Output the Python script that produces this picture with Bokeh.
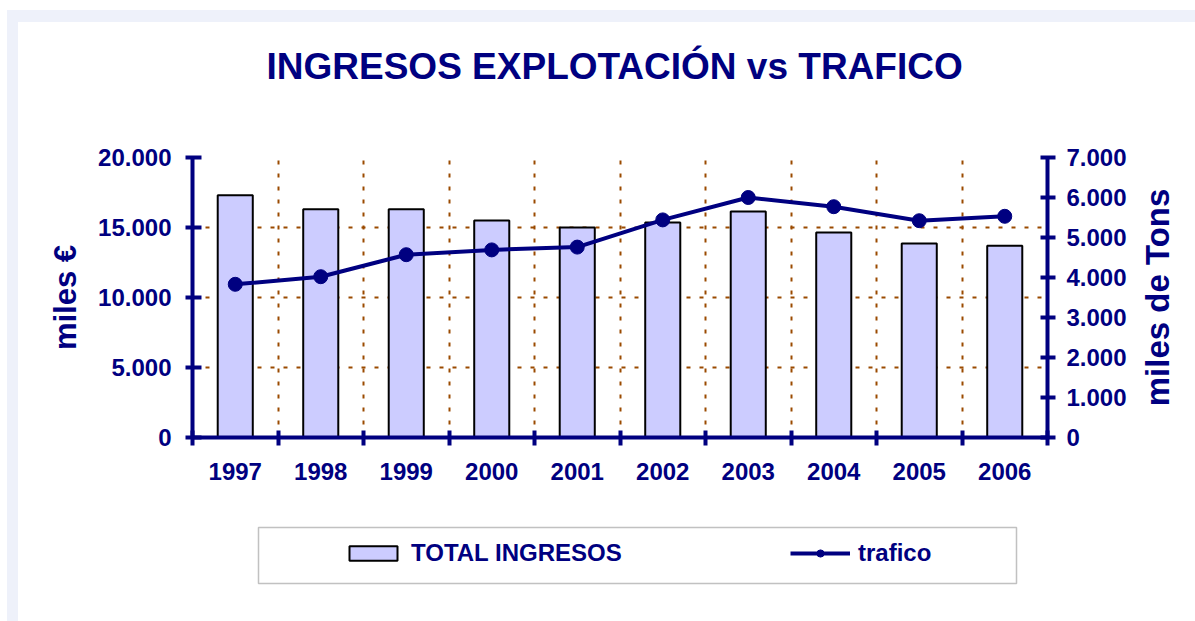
from bokeh.plotting import figure
from bokeh.layouts import column, row
from bokeh.models import (Range1d, LinearAxis, FixedTicker, Legend, LegendItem,
                          ColumnDataSource, BoxAnnotation, Title)
from bokeh.embed import file_html
from bokeh.resources import INLINE

years = ["1997", "1998", "1999", "2000", "2001", "2002", "2003", "2004", "2005", "2006"]
total_ingresos = [17300, 16300, 16300, 15500, 15000, 15350, 16150, 14650, 13850, 13700]
trafico = [3830, 4020, 4570, 4690, 4760, 5440, 6000, 5770, 5420, 5530]
left_ticks = [0, 5000, 10000, 15000, 20000]
right_ticks = [0, 1000, 2000, 3000, 4000, 5000, 6000, 7000]

NAVY = "#000080"
GRID = "#9A4A00"
FONT = "Liberation Sans"
BAND = "#EEF1FA"

def fmt(v):
    return f"{v:,}".replace(",", ".")

xs = list(range(1, len(years) + 1))
src = ColumnDataSource(dict(x=xs, ingresos=total_ingresos, trafico=trafico))

W = 1177
W_MAIN = 1122
H_MAIN = 488
H_LEG = 111
BL, BR = 174, 93
BT, BB = 135, 73

p = figure(width=W_MAIN, height=H_MAIN, output_backend="svg", toolbar_location=None,
           x_range=Range1d(0.5, len(years) + 0.5), y_range=Range1d(0, 20000),
           min_border_left=BL, min_border_right=BR, min_border_top=BT,
           min_border_bottom=BB)
p.extra_y_ranges = {"right": Range1d(0, 7000)}
p.outline_line_color = None
p.background_fill_color = "white"
p.border_fill_color = "white"

# spacer between title and frame (first "above" item sits next to the frame)
p.add_layout(Title(text=" ", text_font_size="10px", standoff=53), "above")

# title
p.title.text = "INGRESOS EXPLOTACIÓN vs TRAFICO"
p.title.align = "left"
p.title.offset = 74
p.title.text_font = FONT
p.title.text_font_size = "37px"
p.title.text_font_style = "bold"
p.title.text_color = NAVY
p.title.standoff = 10

def style_axis(ax):
    ax.axis_line_color = NAVY
    ax.axis_line_width = 4
    ax.major_tick_line_color = NAVY
    ax.major_tick_line_width = 4
    ax.minor_tick_line_color = NAVY
    ax.minor_tick_line_width = 4
    ax.major_label_text_font = FONT
    ax.major_label_text_font_size = "24px"
    ax.major_label_text_font_style = "bold"
    ax.major_label_text_color = NAVY
    ax.axis_label_text_font = FONT
    ax.axis_label_text_font_style = "bold"
    ax.axis_label_text_color = NAVY

# left axis
yl = p.yaxis[0]
style_axis(yl)
yl.ticker = FixedTicker(ticks=left_ticks)
yl.major_label_overrides = {t: fmt(t) for t in left_ticks}
yl.major_tick_in = 9
yl.major_tick_out = 7
yl.minor_tick_in = 0
yl.minor_tick_out = 0
yl.major_label_standoff = 14
yl.axis_label = "miles €"
yl.axis_label_text_font_size = "31px"
yl.axis_label_standoff = 12

# right axis (ticks and numbers)
yr = LinearAxis(y_range_name="right", ticker=FixedTicker(ticks=right_ticks))
style_axis(yr)
yr.major_label_overrides = {t: fmt(t) for t in right_ticks}
yr.major_tick_in = 7
yr.major_tick_out = 8
yr.minor_tick_in = 0
yr.minor_tick_out = 0
yr.major_label_standoff = 11
p.add_layout(yr, "right")

# bottom axis
xa = p.xaxis[0]
style_axis(xa)
xa.ticker = FixedTicker(ticks=xs, minor_ticks=[x - 0.5 for x in xs] + [xs[-1] + 0.5])
xa.major_label_overrides = {x: y for x, y in zip(xs, years)}
xa.major_tick_in = 0
xa.major_tick_out = 0
xa.minor_tick_in = 7
xa.minor_tick_out = 8
xa.major_label_standoff = 17

# grids
p.ygrid.ticker = FixedTicker(ticks=left_ticks[1:])
p.ygrid.grid_line_color = GRID
p.ygrid.grid_line_width = 2
p.ygrid.grid_line_dash = "4 9"
p.xgrid.ticker = FixedTicker(ticks=[x + 0.5 for x in xs[:-1]])
p.xgrid.grid_line_color = GRID
p.xgrid.grid_line_width = 2
p.xgrid.grid_line_dash = "4 9"

# data
bar_style = dict(fill_color="#CCCCFF", line_color="black", line_width=2)
line_style = dict(line_color=NAVY, line_width=4)
pt_style = dict(marker="circle", size=14, fill_color=NAVY, line_color=NAVY)

p.vbar(x="x", top="ingresos", width=0.41, source=src, **bar_style)
p.line(x="x", y="trafico", source=src, y_range_name="right", **line_style)
p.scatter(x="x", y="trafico", source=src, y_range_name="right", **pt_style)

# narrow strip carrying the right-hand axis title (reads bottom to top)
r = figure(width=W - W_MAIN, height=H_MAIN, output_backend="svg", toolbar_location=None,
           x_axis_type=None, y_axis_type=None,
           x_range=Range1d(0, 1), y_range=Range1d(0, 7000),
           min_border_left=W - W_MAIN - 2, min_border_right=0, min_border_top=BT,
           min_border_bottom=BB)
r.xgrid.visible = False
r.ygrid.visible = False
r.outline_line_color = None
r.border_fill_color = "white"
ra = LinearAxis(ticker=FixedTicker(ticks=[]))
ra.axis_line_color = None
ra.major_tick_line_color = None
ra.minor_tick_line_color = None
ra.major_label_text_font_size = "0px"
ra.axis_label = "miles de Tons"
ra.axis_label_text_font = FONT
ra.axis_label_text_font_size = "33px"
ra.axis_label_text_font_style = "bold"
ra.axis_label_text_color = NAVY
ra.axis_label_text_line_height = 1.0
ra.axis_label_standoff = 20
r.add_layout(ra, "left")

# legend panel: same frame extent as the chart, pixel-like ranges
QR = W - W_MAIN + BR
FW = W - BL - QR
q = figure(width=W, height=H_LEG, output_backend="svg", toolbar_location=None,
           x_axis_type=None, y_axis_type=None,
           x_range=Range1d(0, FW), y_range=Range1d(0, H_LEG),
           min_border_left=BL, min_border_right=QR, min_border_top=0,
           min_border_bottom=0)
q.xgrid.visible = False
q.ygrid.visible = False
q.outline_line_color = None
q.border_fill_color = "white"
q.add_layout(BoxAnnotation(left=66, right=824, bottom=38, top=94,
                           fill_alpha=0, line_color="#333333", line_width=1.5))
# legend-only renderers (a single blank row, nothing drawn in the plot area)
nan = float("nan")
key_src = ColumnDataSource(dict(x=[nan], ingresos=[nan], trafico=[nan]))
lb = q.vbar(x="x", top="ingresos", width=0.41, source=key_src, **bar_style)
ll = q.line(x="x", y="trafico", source=key_src, **line_style)
lp = q.scatter(x="x", y="trafico", source=key_src, **pt_style)

legend = Legend(items=[LegendItem(label="TOTAL INGRESOS", renderers=[lb]),
                       LegendItem(label="trafico", renderers=[ll, lp])],
                orientation="horizontal", location=(151, 54),
                padding=0, margin=0, spacing=19, label_width=360,
                label_height=28,
                glyph_width=60, glyph_height=18, label_standoff=8,
                border_line_color=None, background_fill_alpha=0,
                label_text_font=FONT, label_text_font_size="24px",
                label_text_font_style="bold", label_text_color=NAVY)
q.add_layout(legend, "center")

layout = column(row(p, r, spacing=0), q, spacing=0,
                styles={"border-left": f"11px solid {BAND}",
                        "border-top": f"12px solid {BAND}",
                        "margin-left": "7px", "margin-top": "10px"})

open("out.html", "w").write(file_html(layout, INLINE))
